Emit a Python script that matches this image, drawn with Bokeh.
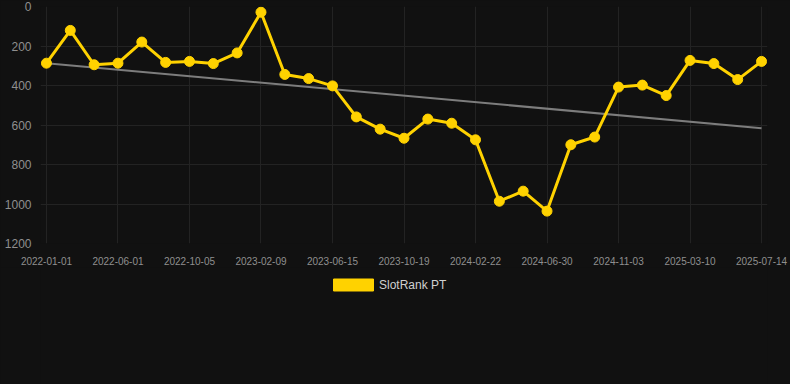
from bokeh.plotting import figure
from bokeh.layouts import column
from bokeh.models import Range1d, FixedTicker, Legend, LegendItem, GlobalInlineStyleSheet
from bokeh.embed import file_html
from bokeh.resources import INLINE

# ---- data ----
tick_labels = ["2022-01-01", "2022-06-01", "2022-10-05", "2023-02-09", "2023-06-15",
               "2023-10-19", "2024-02-22", "2024-06-30", "2024-11-03", "2025-03-10",
               "2025-07-14"]
rank = [287, 121, 295, 287, 180, 283, 278, 289, 235, 29,
        344, 365, 402, 559, 621, 667, 570, 591, 675, 986,
        935, 1036, 700, 661, 408, 398, 451, 273, 289, 370, 278]
trend_values = [287, 616]
y_ticks = [0, 200, 400, 600, 800, 1000, 1200]
series_name = "SlotRank PT"

idx = list(range(len(rank)))
tick_positions = list(range(0, len(rank), 3))
trend_x = [idx[0], idx[-1]]

YELLOW = "#FFD200"
BG = "#111111"
FONT = "Liberation Sans"

chart = figure(width=790, height=267, output_backend="svg", toolbar_location=None,
               x_range=Range1d(-0.25, 30.25), y_range=Range1d(1200, 0),
               min_border_left=40, min_border_right=23, min_border_top=6,
               min_border_bottom=24,
               background_fill_color=BG, border_fill_color=BG, outline_line_color=None)
chart.stylesheets = [GlobalInlineStyleSheet(
    css="html,body{margin:0;padding:0;background:#111111;}")]

chart.xaxis.ticker = FixedTicker(ticks=tick_positions)
chart.xaxis.major_label_overrides = {i: lab for i, lab in zip(tick_positions, tick_labels)}
chart.yaxis.ticker = FixedTicker(ticks=y_ticks)
for ax in (chart.xaxis[0], chart.yaxis[0]):
    ax.axis_line_color = None
    ax.major_tick_line_color = None
    ax.minor_tick_line_color = None
    ax.major_label_text_font = FONT
    ax.major_label_text_color = "#8f8f8f"
chart.xaxis.major_label_text_font_size = "10px"
chart.xaxis.major_label_standoff = 7
chart.yaxis.major_label_text_font_size = "12px"
chart.yaxis.major_label_standoff = 3

chart.xgrid.grid_line_color = "#232323"
chart.ygrid.grid_line_color = "#232323"

chart.line(trend_x, trend_values, line_color="#7d7d7d", line_width=2)
chart.line(idx, rank, line_color=YELLOW, line_width=3)
chart.scatter(idx, rank, size=10, fill_color=YELLOW, line_color=YELLOW)

# legend strip below the chart
leg = figure(width=790, height=117, output_backend="svg", toolbar_location=None,
             x_range=Range1d(0, 1), y_range=Range1d(0, 1),
             x_axis_location=None, y_axis_location=None,
             min_border=0, background_fill_color=BG, border_fill_color=BG,
             outline_line_color=None)
leg.grid.visible = False
legend_r = leg.rect(x=[-10], y=[-10], width=1, height=1, fill_color=YELLOW, line_color=YELLOW)
legend = Legend(items=[LegendItem(label=series_name, renderers=[legend_r])],
                location=(288, 92), orientation="horizontal",
                glyph_width=50, glyph_height=15, label_standoff=1,
                label_height=12,
                label_text_font=FONT, label_text_font_size="12px",
                label_text_color="#d0d0d0",
                background_fill_alpha=0, border_line_alpha=0,
                margin=0, padding=0)
leg.add_layout(legend, "center")

p = column(chart, leg, spacing=0)

open("out.html", "w").write(file_html(p, INLINE))
